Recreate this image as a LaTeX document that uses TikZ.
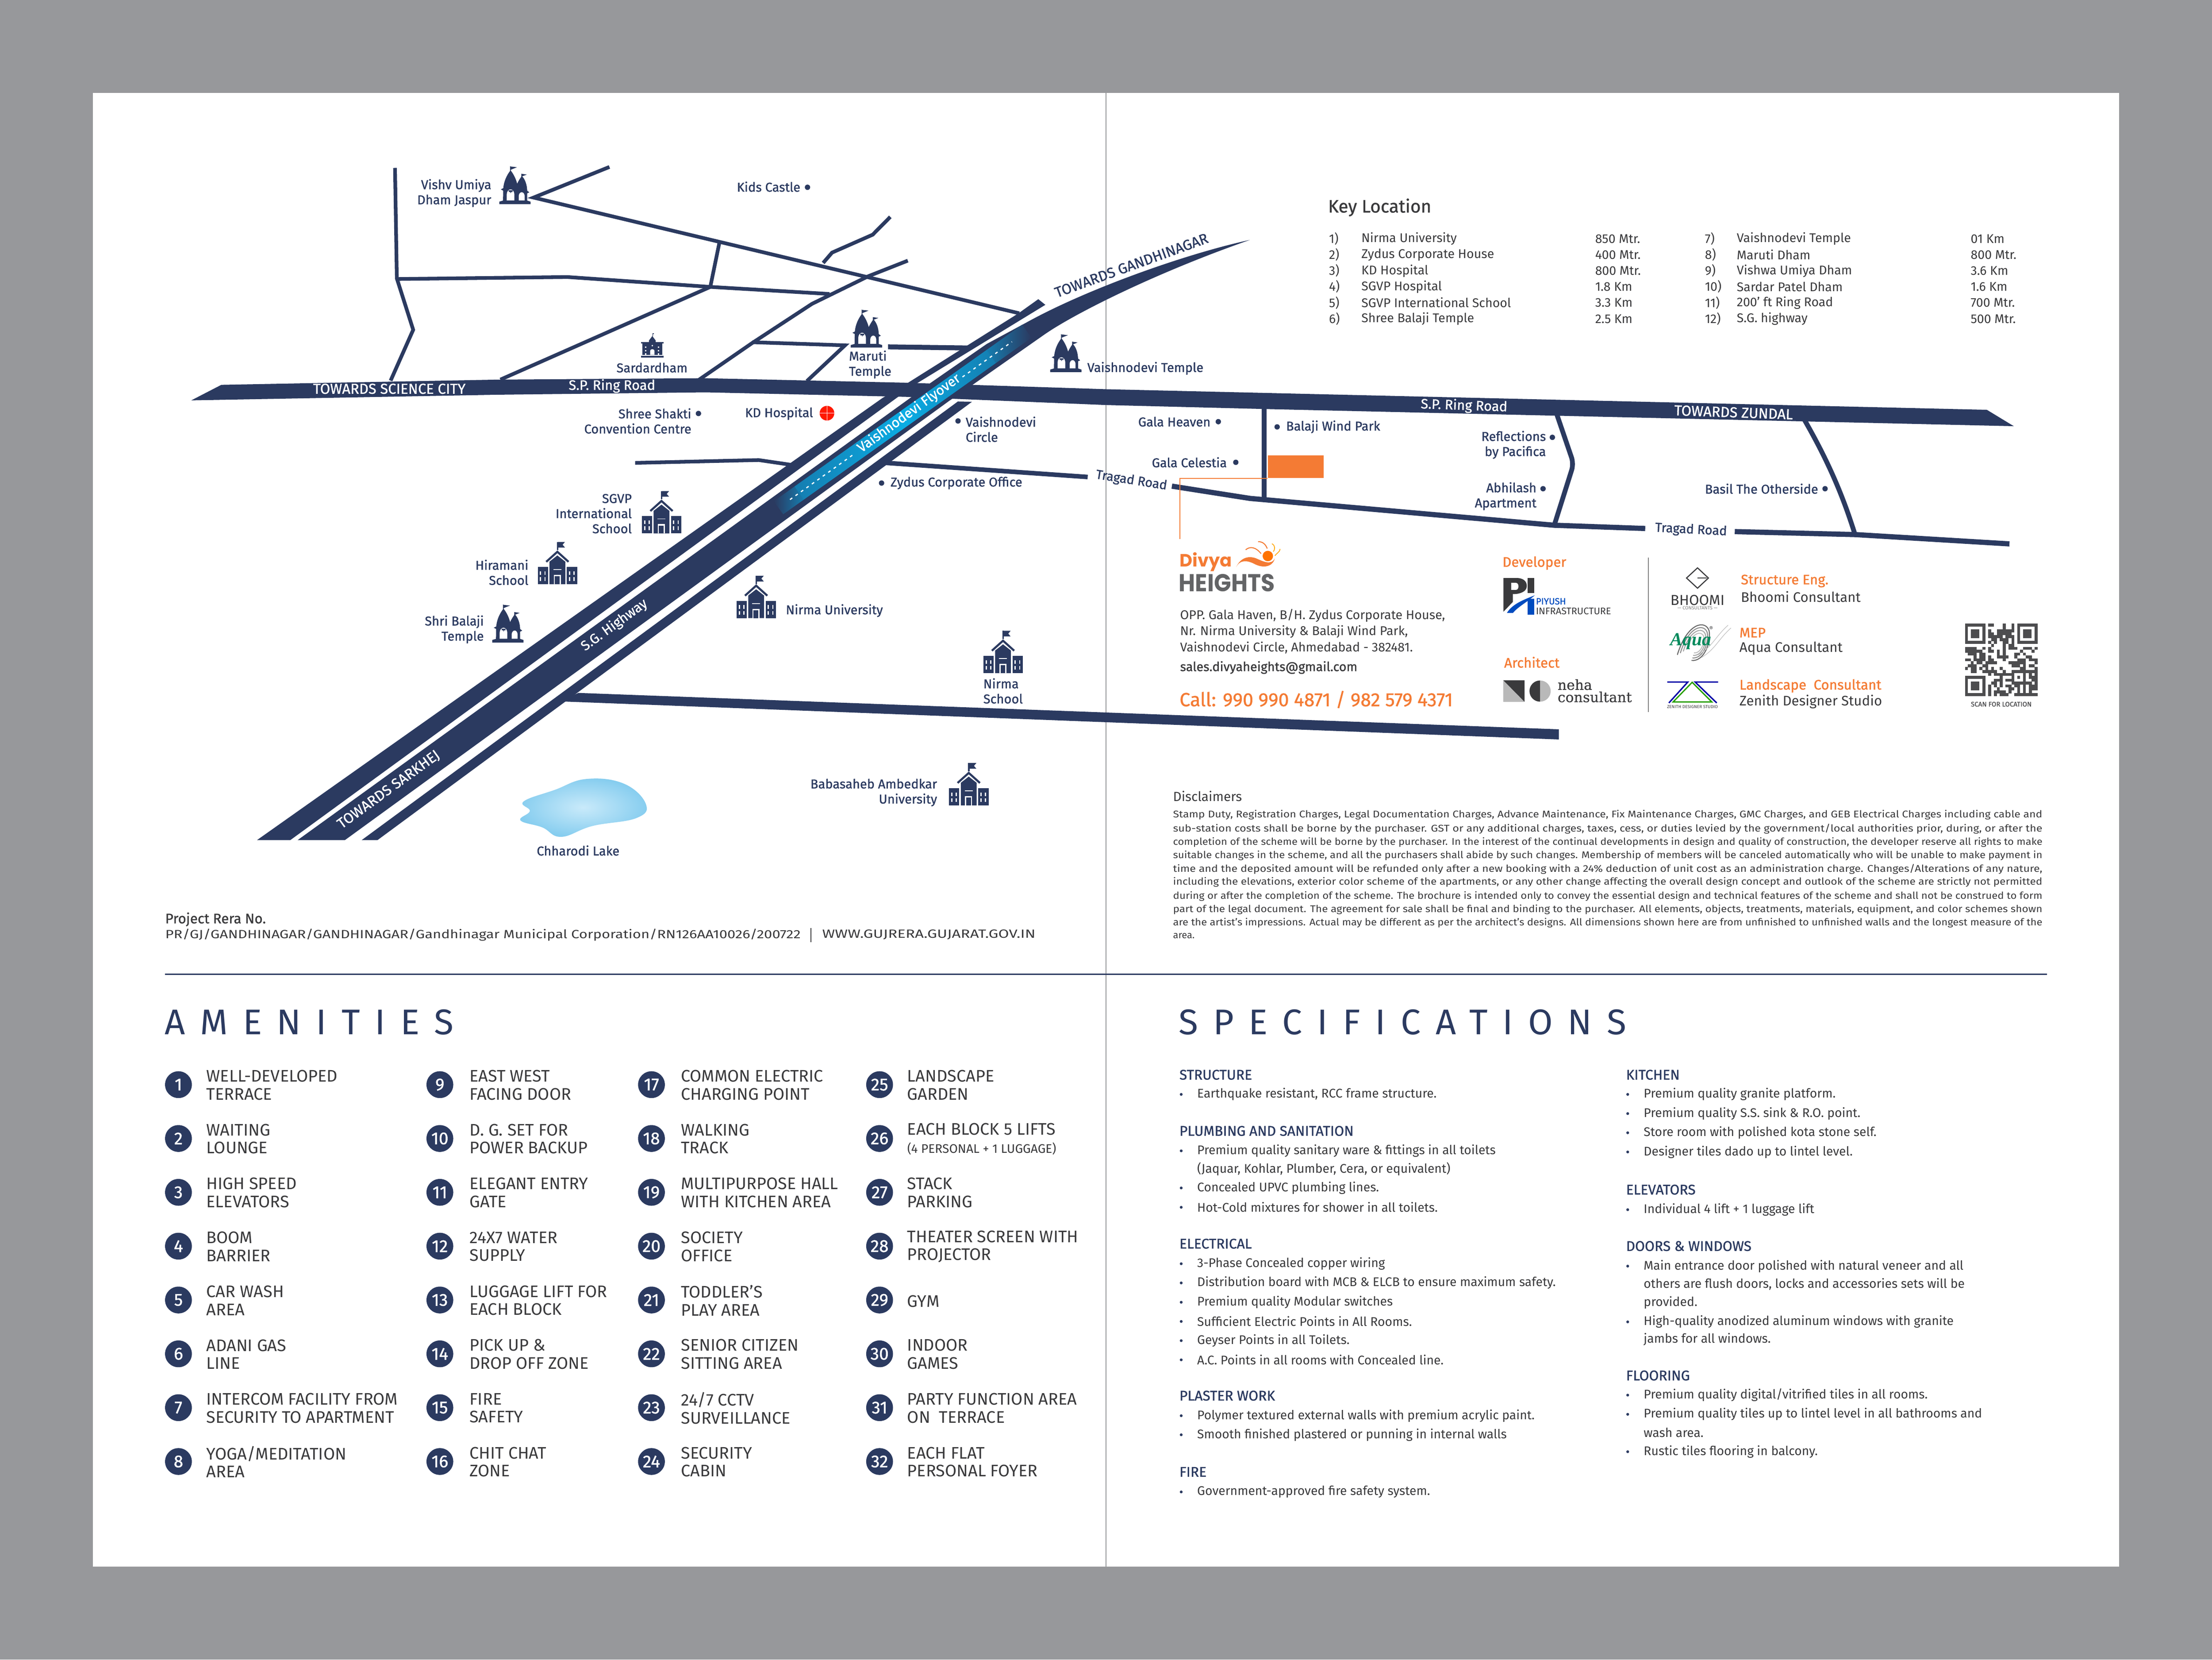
\documentclass[tikz,border=0pt]{standalone}
\usepackage{fontspec}
\usepackage{graphicx}
\setmainfont{Fira Sans}
\newfontfamily\lf[FakeBold=1.1]{Fira Sans}
\newfontfamily\hf[LetterSpace=42]{Fira Sans}
\newfontfamily\pop{Poppins}
\newfontfamily\slab[FakeBold=0.5]{DejaVu Serif}
\newfontfamily\tms{Liberation Serif}
\definecolor{navy}{HTML}{2B3A60}
\definecolor{ink}{HTML}{3A3A3C}
\definecolor{org}{HTML}{F47B34}
\definecolor{pagebg}{HTML}{97989B}
\definecolor{logog}{HTML}{636466}
\definecolor{qr}{HTML}{4D4D4F}
\definecolor{flya}{HTML}{157DB0}
\definecolor{flyb}{HTML}{0AAEE6}
\definecolor{lakea}{HTML}{C9EAFA}
\definecolor{lakeb}{HTML}{86CDEF}
\newcommand\lab{\lf\fontsize{11.9}{14}\selectfont}
\newcommand\jl[2]{\resizebox{#1pt}{\height}{#2}}
\tikzset{
 lbl/.style={inner sep=0pt,font=\lab,text=navy,align=left,anchor=west},
 lblr/.style={inner sep=0pt,font=\lab,text=navy,align=right,anchor=east},
 lblc/.style={inner sep=0pt,font=\lab,text=navy,align=center,anchor=center},
 whitelbl/.style={inner sep=0pt,font=\lf\fontsize{12.7}{14}\selectfont,text=white,align=center,anchor=center},
 whitecap/.style={inner sep=0pt,font=\lf\fontsize{13.4}{14}\selectfont,text=white,align=center,anchor=center},
 road/.style={draw=navy,line width=3.4pt,line join=miter},
 fat/.style={draw=navy,line width=4.8pt},
 txt/.style={inner sep=0pt,anchor=west,text=ink,font=\fontsize{11.7}{14.7}\selectfont,align=left},
 orgt/.style={inner sep=0pt,anchor=west,text=org,font=\lf\fontsize{12.8}{15}\selectfont},
 hd/.style={inner sep=0pt,anchor=base west,text=navy,font=\hf\fontsize{33}{34}\selectfont},
 sph/.style={inner sep=0pt,anchor=west,text=navy,font=\lf\fontsize{13}{14}\selectfont},
 spi/.style={inner sep=0pt,anchor=west,text=ink,font=\fontsize{11.6}{14}\selectfont},
 numc/.style={circle,fill=navy,inner sep=0pt,minimum size=19*0.0459184cm,text=white,font=\lf\fontsize{16}{16}\selectfont},
 amt/.style={inner sep=0pt,anchor=west,text=ink,align=left,font=\fontsize{15.5}{16.6}\selectfont},
 pics/temple/.style={code={
  \fill[navy] (-11.1,0)--(-11.1,-1.8)--(-8.4,-2.6)--(-8.3,-10)
    .. controls (-8.2,-16) and (-5.5,-21) .. (-3.1,-24)
    .. controls (-0.6,-21) and (1,-17) .. (1.6,-14.5)
    .. controls (2.5,-16.5) and (3.6,-18.2) .. (4.9,-20)
    .. controls (7,-18) and (8.7,-14) .. (8.7,-9)
    --(8.7,-2.6)--(11.1,-1.8)--(11.1,0)--cycle;
  \fill[navy] (-3.4,-23)--(-3.4,-27)--(-3,-26.7)--(1.5,-26.2)--(-1.5,-25)--(-2.9,-24.4)--(-2.9,-23)--cycle;
  \fill[navy] (4.5,-19)--(4.5,-21.6)--(8.4,-21)--(5.1,-19.7)--(5.1,-19)--cycle;
  \fill[navy] (-10,-10.5)--(-8,-11.5)--(-7.5,-9.2)--cycle;
  \fill[navy] (10.2,-8.4)--(8.4,-9.8)--(8.2,-7.5)--cycle;
  \fill[white] (-5.8,-2.7)--(-5.8,-7) .. controls (-5.6,-9.4) and (-4.4,-10.5) .. (-3.1,-10.5) .. controls (-1.8,-10.5) and (-0.6,-9.4) .. (-0.4,-7)--(-0.4,-2.7)--cycle;
  \fill[navy] (-4.6,-9.8)--(-4,-8.4)--(-3.5,-9)--(-3,-7.8)--(-2.4,-9)--(-1.9,-8.4)--(-1.5,-9.8)--cycle;
  \fill[white] (2.7,-2.7)--(2.7,-6) .. controls (2.9,-7.6) and (3.9,-8.5) .. (4.8,-8.5) .. controls (5.8,-8.5) and (6.7,-7.6) .. (6.9,-6)--(6.9,-2.7)--cycle;
 }},
 pics/school/.style={code={
  \fill[navy] (-13.9,0) rectangle (-6.7,-12.2);
  \fill[navy] (6.7,0) rectangle (14.1,-12.2);
  \fill[navy] (-5.6,0)--(-5.6,-16)--(0,-20.4)--(5.6,-16)--(5.6,0)--cycle;
  \draw[navy,line width=1.9pt] (-7.9,-15.9)--(0,-23)--(7.9,-15.9);
  \fill[navy] (-0.4,-24.2) rectangle (0.6,-30);
  \fill[navy] (0.4,-30)--(5.4,-30)--(3.7,-28)--(5.4,-26)--(0.4,-26)--cycle;
  \fill[white] (-2.6,0) rectangle (2.4,-6.6);
  \fill[navy] (-1.8,0) rectangle (1.6,-5.6);
  \fill[white] (-2.8,-10.6) rectangle (2.8,-10);
  \foreach \wx in {-12.4,-9.2,8.2,11.4}{\foreach \wy in {-9.2,-5}{\fill[white] (\wx,\wy) rectangle ++(0.9,2.6);}}
 }},
 pics/hall/.style={code={
  \fill[navy] (-8,0) rectangle (8,-1.3);
  \fill[navy] (-7.2,-1.9) rectangle (7.2,-10);
  \fill[navy] (-7.9,-10) rectangle (7.9,-11);
  \fill[navy] (-2.4,-10.5)--(-2.4,-12)--(0,-15.2)--(2.4,-12)--(2.4,-10.5)--cycle;
  \fill[navy] (0.1,-15) rectangle (0.5,-17.3);
  \fill[navy] (0.1,-17.3) rectangle (1.1,-16.4);
  \fill[white] (-1.5,-1.9)--(-1.5,-4.8) .. controls (-1.5,-6.2) and (1.5,-6.2) .. (1.5,-4.8)--(1.5,-1.9)--cycle;
  \fill[white] (0,-8.4) circle (0.6);
  \foreach \wx in {-5.2,3.9}{\foreach \wy in {-2.9,-5.3,-7.7}{\fill[white] (\wx,\wy) rectangle ++(1,1);}}
 }}
}
\begin{document}
\begin{tikzpicture}[x=0.0459184cm,y=-0.0459184cm]
\useasboundingbox (0,0) rectangle (1568,1176);
\fill[pagebg] (0,0) rectangle (1568,1176);
\fill[white] (66,66) rectangle (1502,1110);
\draw[pagebg,line width=0.8pt] (784,66)--(784,1110);

% thin roads
\draw[road] (280,119)--(281.3,197.3)--(292.9,233.7)--(276.9,269.7);
\draw[road] (282,197.7)--(402.2,196.3)--(503.5,203.3)--(588,208.3);
\draw[road] (354.7,269)--(503.5,203.3);
\draw[road] (510.2,170.7)--(503.5,203.3);
\draw[road] (432,118.3)--(378.2,140)--(722.5,222);
\draw[road] (643.5,184.7)--(615.6,195.7)--(575.6,215.3)--(533.3,243)--(495.6,269);
\draw[road] (583.5,186.3)--(589.8,179)--(618.6,166.3)--(631.1,153.7);
\draw[road] (533.3,242.5)--(599,244.7)--(572,270);
\draw[road,line width=4.6pt] (629.5,245.8)--(688,246.6);
\draw[road] (450.2,328)--(537.8,326)--(565,330);
\draw[road,line width=4.2pt] (628,328)--(771,338);
\draw[road,line width=4.6pt] (896,288)--(896,353);
\draw[road,line width=4.4pt,rounded corners=6pt] (1103,292)--(1115.5,328.6)--(1101.8,372);
\draw[road,line width=4.4pt] (1278.2,296) .. controls (1295,325) and (1306,350) .. (1315,379);

% tragad road (right)
\draw[fat] (830.7,344.5)--(886.2,353.2)--(1101.8,372.2)--(1166.2,374.5);
\draw[fat] (1229.7,376.7)--(1315,378.8)--(1424.4,385.4);

% ring road
\fill[navy] (135.6,283.7)--(156.9,272.7)--(353.3,269)--(500,268)--(642,271.2)--(784,275.8)--(1408.4,290.4)--(1427.5,302)
  --(895,289.8)--(784,287)--(642,281.2)--(500,278)--(353,279.7)--cycle;
% S.G. highway
\fill[navy] (182.2,595.3)--(205.8,595.3)--(635,282.4)--(649.5,271.9)--(741,216)--(736,212)--(722,222)--(643.4,271.4)--(625.6,282)--cycle;
\fill[navy] (211,595.3)--(244.5,595.3)--(672.9,284)--(688.4,273.4)--(740.4,237)
  .. controls (762,222) and (820,193) .. (886,170)
  .. controls (840,180) and (770,205) .. (727.3,228.7)--(699.5,243.7)--(658.4,272.2)--(644,282.9)--cycle;
\fill[navy] (256.4,595.3)--(267.6,595.3)--(689,284.7)--(679,284.5)--cycle;
% lower road
\fill[navy] (397,497)--(410,491)--(1105,516.8)--(1105,524)--cycle;

% flyover
\begin{scope}[shift={(560,354)},rotate=35.4]
 \shade[left color=navy,right color=flya] (-10,-5.7) rectangle (8.2,5.7);
 \shade[left color=flya,right color=flyb] (8,-5.7) rectangle (100.2,5.7);
 \shade[left color=flyb,right color=flya] (100,-5.7) rectangle (175.2,5.7);
 \shade[left color=flya,right color=navy] (175,-5.7) rectangle (206,5.7);
 \draw[white,line width=1.1pt,dash pattern=on 2.6pt off 3.6pt] (0,0)--(55,0);
 \draw[white,line width=1.1pt,dash pattern=on 2.6pt off 3.6pt] (150,0)--(193,0);
\end{scope}

% lake
\shade[inner color=lakea,outer color=lakeb] plot[smooth cycle,tension=0.7] coordinates {(368.9,581.3)(375.6,574.7)(371.1,568)(393.3,559.7)(415.6,552)(442.2,555.3)(457.8,569.7)(451.1,579.7)(420,585.3)(397.8,593)(384.4,586.3)};

% site and connector
\node[fill=org,inner sep=0pt,minimum width=39.5*0.0459184cm,minimum height=15.9*0.0459184cm] (site) at (918.45,330.75) {};
\coordinate (lead) at (836.4,382);
\draw[org,line width=0.8pt] (lead)|-(site.south west);

% icons
\pic at (365,144.7) {temple};
\pic at (614.2,246.3) {temple};
\pic at (755.5,263.7) {temple};
\pic at (360,455.3) {temple};
\pic at (468.9,378) {school};
\pic at (395.1,414) {school};
\pic at (536,438) {school};
\pic at (711,477) {school};
\pic at (686.7,570.7) {school};
\pic at (462.4,253.3) {hall};

% hospital
\fill[red!80!orange] (586.2,292.8) circle (5.2);
\draw[white,line width=0.6pt] (581,292.8)--(591.4,292.8) (586.2,287.6)--(586.2,298);

% dots
\foreach \dx/\dy in {572.4/132.7,495.1/293,679.1/298.3,624.9/342.3,863.6/298.8,905.3/302.5,876/327.6,1100.4/309.9,1093.8/346.3,1293.7/346.3}
  \fill[navy] (\dx,\dy) circle (1.9);

% map labels
\node[lblr] (vu) at (348.4,136.8) {Vishv Umiya\\Dham Jaspur};
\node[lbl] (kc) at (522.2,132.3) {Kids Castle};
\node[lblc] (sd) at (462.2,260.5) {Sardardham};
\node[lbl] (mt) at (601.7,258.3) {Maruti\\Temple};
\node[lbl] (vt) at (770.6,261) {Vaishnodevi Temple};
\node[lblr] (ss) at (490.2,298.3) {Shree Shakti\\Convention Centre};
\node[lbl] (kd) at (528,293) {KD Hospital};
\node[lbl] (vc) at (684.4,304.2) {Vaishnodevi\\Circle};
\node[lbl] (zy) at (631.1,342.3) {Zydus Corporate Office};
\node[lblc,rotate=-9] (tr1) at (802,340.6) {Tragad Road};
\node[lblr] (sg) at (448,364) {SGVP\\International\\School};
\node[lblr] (hi) at (374.7,405.6) {Hiramani\\School};
\node[lblr] (sb) at (343.1,446) {Shri Balaji\\Temple};
\node[lbl] (nu) at (556.9,432.7) {Nirma University};
\node[lbl] (ns) at (696.9,489.6) {Nirma\\School};
\node[lblr] (ba) at (664.4,561.6) {Babasaheb Ambedkar\\University};
\node[lblc] (cl) at (409.8,602.7) {Chharodi Lake};
\node[whitelbl] (rr1) at (433.8,273.5) {S.P. Ring Road};
\node[whitecap] (tsc) at (276,275.5) {TOWARDS SCIENCE CITY};
\node[whitelbl,rotate=36] (sgh) at (435.5,443) {S.G. Highway};
\node[whitecap,rotate=36] (tsk) at (275.6,559.7) {TOWARDS SARKHEJ};
\node[whitelbl,rotate=36] (vf) at (644.4,293) {Vaishnodevi Flyover};
\node[lblc,rotate=20,font=\lf\fontsize{13.4}{14}\selectfont] (tg) at (802,188) {TOWARDS GANDHINAGAR};
\node[whitelbl,rotate=-2] (rr2) at (1037.8,287.7) {S.P. Ring Road};
\node[whitecap,rotate=-2] (tz) at (1228.9,292.2) {TOWARDS ZUNDAL};
\node[lbl] (gh) at (806.7,298.8) {Gala Heaven};
\node[lbl] (bw) at (911.5,302.5) {Balaji Wind Park};
\node[lblr] (gc) at (869.8,327.6) {Gala Celestia};
\node[lblr] (rp) at (1096,315.2) {Reflections\\by Pacifica};
\node[lblr] (ab) at (1089.3,351.6) {Abhilash\\Apartment};
\node[lbl] (bo) at (1208.4,346.3) {Basil The Otherside};
\node[lblc,rotate=-3] (tr2) at (1198.7,375.6) {Tragad Road};

% key location
\node[inner sep=0pt,anchor=west,text=ink,font=\lf\fontsize{16.6}{18}\selectfont] (kl) at (941.3,147) {Key Location};
\foreach \yy/\a/\b/\c/\d/\e/\f in {
 169.2/1)/Nirma University/850 Mtr./7)/Vaishnodevi Temple/01 Km,
 180.5/2)/Zydus Corporate House/400 Mtr./8)/Maruti Dham/800 Mtr.,
 191.9/3)/KD Hospital/800 Mtr./9)/Vishwa Umiya Dham/3.6 Km,
 203.2/4)/SGVP Hospital/1.8 Km/10)/Sardar Patel Dham/1.6 Km,
 214.5/5)/SGVP International School/3.3 Km/11)/200' ft Ring Road/700 Mtr.,
 225.9/6)/Shree Balaji Temple/2.5 Km/12)/S.G. highway/500 Mtr.}{
 \node[txt] (ka\a) at (941.9,\yy) {\a};
 \node[txt] (kb\a) at (964.9,\yy) {\b};
 \node[txt] (kc\a) at (1130.6,\yy) {\c};
 \node[txt] (kd\a) at (1208.4,\yy) {\d};
 \node[txt] (ke\a) at (1231,\yy) {\e};
 \node[txt] (kf\a) at (1396.8,\yy) {\f};
}

% divya logo
\node[inner sep=0pt,anchor=base west,text=org,font=\pop\bfseries\fontsize{16.4}{18}\selectfont] (dv) at (836,401.6) {Divya};
\node[inner sep=0pt,anchor=base west,text=logog,font=\pop\bfseries\fontsize{22.6}{24}\selectfont] (hg) at (835.5,419) {\resizebox{88.8pt}{\height}{HEIGHTS}};
\fill[orange!90!red] (898.7,394) circle (3.7);
\fill[org] (876.3,401.8) .. controls (879,396) and (884,393.5) .. (890,395.5) .. controls (895,397.6) and (901,401) .. (903.7,395.7) .. controls (902,402) and (895,402.8) .. (889,399.5) .. controls (884,397) and (879,396.5) .. cycle;
\draw[org,line width=0.9pt] (883,389.6) .. controls (886,387) and (890,387.5) .. (893.9,392.3);
\draw[org,line width=0.9pt] (891.8,383.8) .. controls (895,383.8) and (897,385.5) .. (898.3,388.7);
\draw[orange!70!yellow,line width=0.7pt] (901.6,385.3) .. controls (904,386.5) and (904,389) .. (902.6,390.9);
\draw[orange!70!yellow,line width=0.7pt] (907.4,389) .. controls (907.4,391) and (905,392) .. (903.7,393.8);

% address
\node[txt,font=\fontsize{11.75}{14.9}\selectfont] (ad) at (836.4,447.4) {OPP. Gala Haven, B/H. Zydus Corporate House,\\Nr. Nirma University \& Balaji Wind Park,\\Vaishnodevi Circle, Ahmedabad - 382481.};
\node[txt,font=\lf\fontsize{11.8}{14}\selectfont] (em) at (836.4,473) {sales.divyaheights@gmail.com};
\node[inner sep=0pt,anchor=west,text=org,font=\lf\fontsize{17.6}{18}\selectfont] (cal) at (836,495.7) {Call: 990 990 4871 / 982 579 4371};

% developer
\node[orgt] (dev) at (1064.9,399) {Developer};
\fill[ink] (1065.7,409.6)--(1076,409.6) .. controls (1081,410) and (1082.6,413) .. (1082.2,416) .. controls (1081.8,419) and (1078,421) .. (1072.4,421)--(1072.4,426.5)--(1065.7,433.5)--cycle;
\fill[white] (1071.2,413)--(1074.5,413) .. controls (1077,413) and (1077,418) .. (1074.5,418)--(1071.2,418)--cycle;
\fill[ink] (1082.8,409.6) rectangle (1087.6,420.3);
\fill[blue!60!cyan!75!black] (1068.2,434.3) .. controls (1072,428) and (1080,425) .. (1088,421.8) .. controls (1082,427) and (1076,430) .. (1072.5,434.3)--cycle;
\fill[blue!60!cyan!75!black] (1082.8,424.2) rectangle (1087.6,435.7);
\node[inner sep=0pt,anchor=west,text=blue!60!cyan!75!black,font=\lf\fontsize{8.4}{9}\selectfont] (py) at (1088.6,426.1) {PIYUSH};
\node[inner sep=0pt,anchor=west,text=ink,font=\fontsize{8.9}{9}\selectfont] (inf) at (1088.6,433.1) {INFRASTRUCTURE};
\node[orgt] (arc) at (1066.1,469.3) {Architect};
\fill[gray!55] (1065.7,482.1) rectangle (1080.7,497.3);
\fill[ink] (1065.7,482.1)--(1080.7,482.1)--(1080.7,497.3)--cycle;
\fill[gray!55] (1091.7,489.7) circle (7.5);
\fill[ink] (1091.7,482.2) arc[start angle=-90,end angle=-270,radius=7.5]--cycle;
\node[inner sep=0pt,anchor=west,text=ink,align=left,font=\slab\fontsize{12.9}{11.4}\selectfont] (nc) at (1104,489.5) {neha\\consultant};
\draw[gray,line width=0.9pt] (1168.5,395)--(1168.5,504.7);

% bhoomi
\draw[ink,line width=1pt] (1203.3,402.4)--(1211,409.6)--(1203.3,416.8)--(1195.5,409.6)--cycle;
\draw[ink,line width=1pt] (1203.3,409.6)--(1210,409.6);
\node[inner sep=0pt,text=ink,font=\fontsize{13.4}{14}\selectfont] (bh) at (1203.3,425.2) {BHOOMI};
\node[inner sep=0pt,text=gray,font=\fontsize{4.4}{5}\selectfont] (bc) at (1203.3,430.8) {— CONSULTANTS —};
\node[orgt] (se) at (1233.9,411.7) {Structure Eng.};
\node[txt,font=\fontsize{12.8}{14}\selectfont] (bhc) at (1233.9,422.8) {Bhoomi Consultant};

% aqua
\foreach \gg/\sc in {60/1,45/0.85,35/0.7,25/0.55}{
 \begin{scope}[shift={(1203,456)},scale=\sc]
 \draw[black!\gg,line width=0.9pt] (-14,8) .. controls (-7,-15) and (6,-17) .. (8.5,-9) .. controls (10,-1) and (5,13) .. (-4,12);
 \end{scope}}
\draw[gray!50,line width=0.5pt] (1206,466) .. controls (1216,460) and (1218,453) .. (1227,445);
\draw[gray!50,line width=0.5pt] (1204,464) .. controls (1214,458) and (1216,451) .. (1225,443);
\node[inner sep=0pt,text=teal!80!green!90!black,font=\tms\bfseries\itshape\fontsize{17}{18}\selectfont] (aq) at (1198.5,454.5) {Aqua};
\node[inner sep=0pt,text=ink,font=\fontsize{5.5}{6}\selectfont] (aqr) at (1213,445.6) {®};
\node[orgt] (mep) at (1232.9,448.3) {MEP};
\node[txt,font=\fontsize{12.8}{14}\selectfont] (aqc) at (1232.9,459.6) {Aqua Consultant};

% zenith
\draw[blue!65!black,line width=1.3pt] (1181.8,483.3)--(1196.4,483.3)--(1183,498.1);
\draw[blue!65!black,line width=1.3pt] (1217.9,483.3)--(1201.6,483.3)--(1216.9,498.1);
\draw[green!55!black!85!yellow,line width=1.2pt] (1199.5,483.5)--(1186,497.4)--(1213.4,497.4)--cycle;
\node[inner sep=0pt,text=ink,font=\fontsize{4}{5}\selectfont] (zd) at (1199.7,500.9) {\resizebox{47pt}{\height}{ZENITH DESIGNER STUDIO}};
\node[orgt] (lc) at (1232.9,486) {Landscape~~Consultant};
\node[txt,font=\fontsize{12.8}{14}\selectfont] (zc) at (1232.9,497.3) {Zenith Designer Studio};

% qr
\begin{scope}[shift={(1392.9,441.9)}]
 \foreach \qa/\qb in {0/0,18/0,0/18}{
  \fill[qr] ({\qa*2.056},{\qb*2.056}) rectangle ++(14.4,14.4);
  \fill[white] ({(\qa+1)*2.056},{(\qb+1)*2.056}) rectangle ++(10.28,10.28);
  \fill[qr] ({(\qa+2)*2.056},{(\qb+2)*2.056}) rectangle ++(6.17,6.17);
 }
 \foreach \r/\cs in {
 0/{8,9,13,16},1/{13,16},2/{8,11,12,13,14,15,16},3/{8,9,11,12,13,14,15},4/{8,9,10,11,12,14,15,16},5/{9,10,12,13,14,16},6/{8,10,13,14,16},7/{9,13,15,16},
 8/{0,1,2,3,6,8,13,15,16,17,20,21,22,24},9/{0,1,2,3,4,5,8,9,11,13,19,23},10/{1,2,3,5,6,11,13,17,18,20},11/{3,5,6,8,11,12,13,14,17,21,22},
 12/{0,1,3,4,5,6,8,9,13,18,19,20,22,23,24},13/{2,4,5,7,8,9,10,15,16,17,18,19,20,24},14/{1,2,3,6,7,16,17,18,20,22,23},15/{0,2,3,5,7,9,12,19,20,24},
 16/{2,3,6,7,8,9,10,13,16,17,18,19,20,21,22,23,24},17/{8,10,11,12,13,14,15,16,20,22,24},18/{12,16,18,20,22,23,24},19/{10,11,12,14,15,16,20,23,24},
 20/{9,10,12,16,17,18,19,20,21,22,24},21/{8,10,12,14,15,17,18,20,22,23,24},22/{8,11,15,16,18,20,22,23,24},23/{8,10,11,12,13,15,18,20,22},24/{8,10,12,13,14,17,18,19,20,21,22,23,24}}{
  \foreach \c in \cs {\fill[qr] ({\c*2.056},{\r*2.056}) rectangle ++(2.09,2.09);}
 }
\end{scope}
\node[inner sep=0pt,text=qr,font=\lf\fontsize{6.2}{7}\selectfont] (scan) at (1418.6,499) {SCAN FOR LOCATION};

% disclaimers
\node[inner sep=0pt,anchor=west,text=ink,font=\fontsize{12.2}{14}\selectfont] (dh) at (831.4,564.2) {Disclaimers};
\foreach[count=\i] \yy/\t in {
 577.5/{Stamp Duty, Registration Charges, Legal Documentation Charges, Advance Maintenance, Fix Maintenance Charges, GMC Charges, and GEB Electrical Charges including cable and},
 587.5/{sub-station costs shall be borne by the purchaser. GST or any additional charges, taxes, cess, or duties levied by the government{/}local authorities prior, during, or after the},
 596.9/{completion of the scheme will be borne by the purchaser. In the interest of the continual developments in design and quality of construction, the developer reserve all rights to make},
 606.3/{suitable changes in the scheme, and all the purchasers shall abide by such changes. Membership of members will be canceled automatically who will be unable to make payment in},
 615.9/{time and the deposited amount will be refunded only after a new booking with a 24\% deduction of unit cost as an administration charge. Changes{/}Alterations of any nature,},
 625/{including the elevations, exterior color scheme of the apartments, or any other change affecting the overall design concept and outlook of the scheme are strictly not permitted},
 635/{during or after the completion of the scheme. The brochure is intended only to convey the essential design and technical features of the scheme and shall not be construed to form},
 644.6/{part of the legal document. The agreement for sale shall be final and binding to the purchaser. All elements, objects, treatments, materials, equipment, and color schemes shown},
 654/{are the artist's impressions. Actual may be different as per the architect's designs. All dimensions shown here are from unfinished to unfinished walls and the longest measure of the}}{
 \node[inner sep=0pt,anchor=west,text=ink,font=\fontsize{9}{10}\selectfont] (dl\i) at (831.4,\yy) {\jl{805}{\t}};
}
\node[inner sep=0pt,anchor=west,text=ink,font=\fontsize{9}{10}\selectfont] (dl10) at (831.4,663.3) {area.};

% rera
\node[inner sep=0pt,anchor=west,text=ink,font=\lf\fontsize{12.9}{13}\selectfont] (pr) at (117,651.5) {Project Rera No.};
\node[inner sep=0pt,anchor=west,text=ink,font=\fontsize{11}{13}\selectfont] (pr2) at (117,662.4) {\jl{588.3}{PR/GJ/GANDHINAGAR/GANDHINAGAR/Gandhinagar Municipal Corporation/RN126AA10026/200722}};
\draw[ink,line width=0.6pt] (574.8,657.5)--(574.8,667.5);
\node[inner sep=0pt,anchor=west,text=ink,font=\fontsize{11}{13}\selectfont] (pr3) at (582.7,662.4) {\jl{197.5}{WWW.GUJRERA.GUJARAT.GOV.IN}};
\draw[navy,line width=1.5pt] (117,690.4)--(1451,690.4);

% headings
\node[hd] (amh) at (116.7,733.1) {AMENITIES};
\node[hd] (sph) at (835.4,733.1) {SPECIFICATIONS};

% amenities
\foreach \n/\co/\ro/\la/\lb in {
 1/0/0/WELL-DEVELOPED/TERRACE,2/0/1/WAITING/LOUNGE,3/0/2/HIGH SPEED/ELEVATORS,4/0/3/BOOM/BARRIER,5/0/4/CAR WASH/AREA,6/0/5/ADANI GAS/LINE,7/0/6/INTERCOM FACILITY FROM/SECURITY TO APARTMENT,8/0/7/{YOGA{/}MEDITATION}/AREA,
 9/1/0/EAST WEST/FACING DOOR,10/1/1/D. G. SET FOR/POWER BACKUP,11/1/2/ELEGANT ENTRY/GATE,12/1/3/24X7 WATER/SUPPLY,13/1/4/LUGGAGE LIFT FOR/EACH BLOCK,14/1/5/PICK UP \&/DROP OFF ZONE,15/1/6/FIRE/SAFETY,16/1/7/CHIT CHAT/ZONE,
 17/2/0/COMMON ELECTRIC/CHARGING POINT,18/2/1/WALKING/TRACK,19/2/2/MULTIPURPOSE HALL/WITH KITCHEN AREA,20/2/3/SOCIETY/OFFICE,21/2/4/TODDLER'S/PLAY AREA,22/2/5/SENIOR CITIZEN/SITTING AREA,23/2/6/{24{/}7 CCTV}/SURVEILLANCE,24/2/7/SECURITY/CABIN,
 25/3/0/LANDSCAPE/GARDEN,26/3/1/EACH BLOCK 5 LIFTS/{\fontsize{11.5}{12}\selectfont (4 PERSONAL + 1 LUGGAGE)},27/3/2/STACK/PARKING,28/3/3/THEATER SCREEN WITH/PROJECTOR,30/3/5/INDOOR/GAMES,31/3/6/PARTY FUNCTION AREA/ON~~TERRACE,32/3/7/EACH FLAT/PERSONAL FOYER}{
 \pgfmathsetmacro\cx{{126.5,311.8,461.8,623.5}[\co]}
 \pgfmathsetmacro\tx{{146.2,332.7,482.6,643}[\co]}
 \pgfmathsetmacro\cy{768.6+38.15*\ro}
 \node[numc] (cn\n) at (\cx,\cy) {\n};
 \node[amt] (at\n) at (\tx,\cy+0.3) {\la\\\lb};
}
\node[numc] (cn29) at (623.5,921.2) {29};
\node[amt] (at29) at (643,922.2) {GYM};

% specifications headings
\foreach \hx/\hy/\t in {835.9/761.6/STRUCTURE,835.9/801.4/PLUMBING AND SANITATION,835.9/881.3/ELECTRICAL,835.9/989/PLASTER WORK,835.9/1043/FIRE,1152.5/761.6/KITCHEN,1152.5/843/ELEVATORS,1152.5/883/DOORS \& WINDOWS,1152.5/974.7/FLOORING}{
 \node[sph] (sh\hy) at (\hx,\hy) {\t};
}
% bullets + items
\foreach[count=\i] \bx/\by/\bb/\t in {
 848.5/775.5/1/{Earthquake resistant, RCC frame structure.},
 848.5/815.5/1/{Premium quality sanitary ware \& fittings in all toilets},
 848.5/828.3/0/{(Jaquar, Kohlar, Plumber, Cera, or equivalent)},
 848.5/841.8/1/{Concealed UPVC plumbing lines.},
 848.5/855.5/1/{Hot-Cold mixtures for shower in all toilets.},
 848.5/895.5/1/{3-Phase Concealed copper wiring},
 848.5/909.1/1/{Distribution board with MCB \& ELCB to ensure maximum safety.},
 848.5/922.8/1/{Premium quality Modular switches},
 848.5/936.4/1/{Sufficient Electric Points in All Rooms.},
 848.5/950/1/{Geyser Points in all Toilets.},
 848.5/963.6/1/{A.C. Points in all rooms with Concealed line.},
 848.5/1003.2/1/{Polymer textured external walls with premium acrylic paint.},
 848.5/1016.7/1/{Smooth finished plastered or punning in internal walls},
 848.5/1057.2/1/{Government-approved fire safety system.},
 1165/775.5/1/{Premium quality granite platform.},
 1165/789.1/1/{Premium quality S.S. sink \& R.O. point.},
 1165/802.7/1/{Store room with polished kota stone self.},
 1165/816.3/1/{Designer tiles dado up to lintel level.},
 1165/857.2/1/{Individual 4 lift + 1 luggage lift},
 1165/897.2/1/{Main entrance door polished with natural veneer and all},
 1165/909.9/0/{others are flush doors, locks and accessories sets will be},
 1165/923.2/0/{provided.},
 1165/936.7/1/{High-quality anodized aluminum windows with granite},
 1165/949.2/0/{jambs for all windows.},
 1165/988.6/1/{Premium quality digital{/}vitrified tiles in all rooms.},
 1165/1002.2/1/{Premium quality tiles up to lintel level in all bathrooms and},
 1165/1015.2/0/{wash area.},
 1165/1028.7/1/{Rustic tiles flooring in balcony.}}{
 \node[spi] (si\i) at (\bx,\by) {\t};
 \ifnum\bb=1 \fill[navy] ({\bx-11.2},\by) circle (1); \fi
}
\end{tikzpicture}
\end{document}
